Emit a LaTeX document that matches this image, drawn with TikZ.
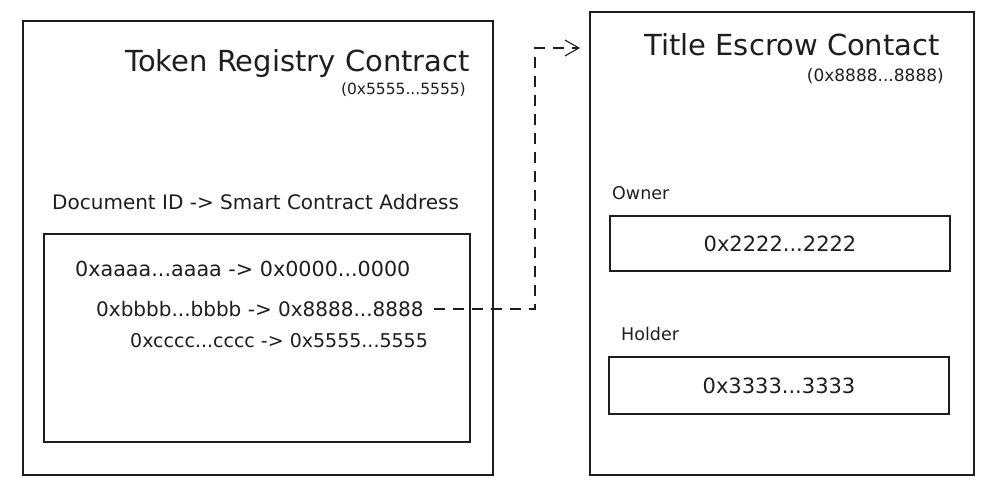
\documentclass[tikz,border=0pt]{standalone}
\usepackage{fontspec}
\setmainfont{DejaVu Sans}
\usetikzlibrary{arrows.meta}

\definecolor{ink}{HTML}{1E1E1E}

\tikzset{
  box/.style={draw=ink, line width=1.1pt, inner sep=0pt},
  title/.style={text=ink, font=\fontsize{29}{33}\selectfont, inner sep=0pt},
  addr/.style={text=ink, font=\fontsize{15.5}{18}\selectfont, inner sep=0pt},
  label/.style={text=ink, font=\fontsize{20}{24}\selectfont, inner sep=0pt},
  value/.style={text=ink, font=\fontsize{21}{25}\selectfont},
  small/.style={text=ink, font=\fontsize{17.5}{21}\selectfont, inner sep=0pt},
  link/.style={draw=ink, line width=1.1pt, dash pattern=on 11pt off 8pt}
}

\begin{document}
\begin{tikzpicture}[x=1pt, y=-1pt]
\useasboundingbox (0,0) rectangle (996,493);

  % token registry
  \node[box, minimum width=470pt, minimum height=454pt] (registry) at (258,248) {};
  \node[title, anchor=east] (regtitle) at (470,63) {Token Registry Contract};
  \node[addr, anchor=east] (regaddr) at (466,90) {(0x5555...5555)};
  \node[label, anchor=west] (maphead) at (52,202) {Document ID -> Smart Contract Address};
  \node[box, minimum width=426pt, minimum height=208pt] (map) at (257,338) {};
  \node[label, anchor=west, font=\fontsize{20.7}{24}\selectfont] (rowa) at (75,269) {0xaaaa...aaaa -> 0x0000...0000};
  \node[label, anchor=west] (rowb) at (96,309) {0xbbbb...bbbb -> 0x8888...8888};
  \node[label, anchor=west, font=\fontsize{19}{23}\selectfont] (rowc) at (130,341) {0xcccc...cccc -> 0x5555...5555};

  % title escrow
  \node[box, minimum width=384pt, minimum height=463pt] (escrow) at (782,243.5) {};
  \node[title, anchor=east] (esctitle) at (940,45) {Title Escrow Contact};
  \node[addr, anchor=east, font=\fontsize{17}{20}\selectfont] (escaddr) at (944,76) {(0x8888...8888)};
  \node[small, anchor=west] (ownerlbl) at (612,193) {Owner};
  \node[box, minimum width=340pt, minimum height=55pt, value] (owner) at (780,243.5) {0x2222...2222};
  \node[small, anchor=west] (holderlbl) at (621,334) {Holder};
  \node[box, minimum width=340pt, minimum height=57pt, value] (holder) at (779,385.5) {0x3333...3333};

  % pointer
  \coordinate (turn) at (535,48);
  \coordinate (tip) at (580,48);
  \draw[link, shorten <=10pt, -{Straight Barb[length=14pt, width=16pt, line width=1.1pt]}]
    (rowb.east) -| (turn) -- (tip);
\end{tikzpicture}
\end{document}
